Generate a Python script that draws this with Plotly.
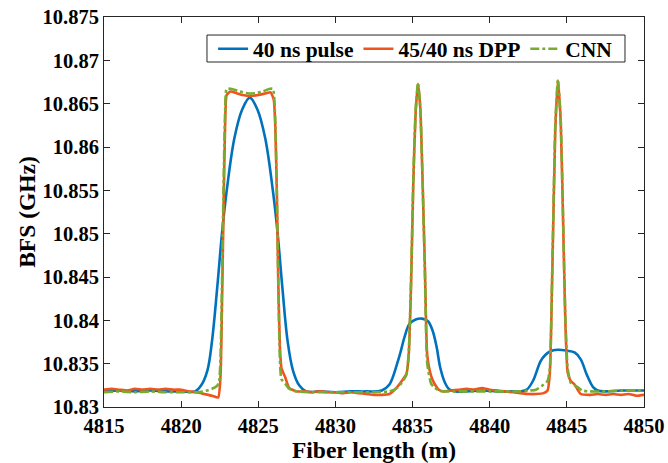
import plotly.graph_objects as go

# ---- 40 ns pulse ----
pulse_x = [4815, 4816, 4817, 4818, 4819, 4820, 4820.9, 4821.3, 4821.7, 4822.0, 4822.35,
           4822.65, 4822.95, 4823.45, 4823.95, 4824.45, 4824.95, 4825.45, 4825.95, 4826.25,
           4826.55, 4826.9, 4827.25, 4827.65, 4828.1, 4829, 4830, 4831, 4832, 4833.0,
           4833.5, 4834.0, 4834.2, 4834.5, 4834.8, 4835.2, 4835.6, 4836.0, 4836.3, 4836.55,
           4836.8, 4837.1, 4837.4, 4837.8, 4838.5, 4839.5, 4840.5, 4841.5, 4842.0, 4842.4,
           4842.8, 4843.3, 4843.6, 4843.9, 4844.4, 4845.0, 4845.5, 4845.9, 4846.3, 4846.7,
           4847.0, 4847.5, 4848.5, 4849.5, 4850]
pulse_bfs = [10.8318, 10.8319, 10.8318, 10.8319, 10.8318, 10.8318, 10.8318, 10.8325, 10.8342, 10.8376, 10.8440,
             10.8501, 10.8549, 10.8610, 10.8643, 10.8657, 10.8643, 10.8610, 10.8549, 10.8501,
             10.8440, 10.8376, 10.8342, 10.8325, 10.8318, 10.8318, 10.8317, 10.8318, 10.8318, 10.8319,
             10.8326, 10.8350, 10.8362, 10.8382, 10.8396, 10.8401, 10.8402, 10.8399, 10.8388, 10.8370,
             10.8345, 10.8328, 10.8320, 10.8318, 10.8318, 10.8319, 10.8318, 10.8318, 10.8318, 10.8320,
             10.8330, 10.8353, 10.8360, 10.8364, 10.8366, 10.8365, 10.8363, 10.8355, 10.8337, 10.8323,
             10.8319, 10.8318, 10.8319, 10.8319, 10.8319]

# ---- 45/40 ns DPP ----
dpp_x = [4815, 4815.5, 4816, 4816.5, 4817, 4817.5, 4818, 4818.5, 4819, 4819.5, 4820, 4820.5,
         4821, 4821.5, 4822, 4822.4, 4822.55, 4822.65, 4822.75, 4822.85, 4822.95, 4823.2,
         4823.6, 4824.0, 4824.5, 4825.0, 4825.5, 4825.8, 4826.0, 4826.1, 4826.2, 4826.3,
         4826.4, 4826.5, 4826.75, 4827.0, 4827.5, 4828, 4828.5, 4829, 4829.5, 4830, 4830.5,
         4831, 4831.5, 4832, 4832.5, 4833, 4833.5, 4834.0, 4834.3, 4834.6, 4834.75, 4834.9,
         4835.05, 4835.2, 4835.35, 4835.5, 4835.65, 4835.8, 4835.95, 4836.2, 4836.45, 4836.7,
         4837.0, 4837.5, 4838, 4838.5, 4839, 4839.5, 4840, 4840.5, 4841, 4841.5, 4842, 4842.5,
         4843, 4843.5, 4843.75, 4843.9, 4844.05, 4844.25, 4844.42, 4844.6, 4844.75, 4844.9,
         4845.05, 4845.25, 4845.5, 4845.7, 4845.9, 4846.5, 4847, 4847.5, 4848, 4848.5, 4849,
         4849.5, 4850]
dpp_bfs = [10.8320, 10.8321, 10.8320, 10.8319, 10.8321, 10.8320, 10.8321, 10.8320, 10.8321, 10.8320, 10.8320, 10.8318,
           10.8317, 10.8315, 10.8313, 10.8311, 10.8335, 10.8420, 10.8530, 10.8625, 10.8660, 10.8664,
           10.8662, 10.8660, 10.8659, 10.8660, 10.8662, 10.8663, 10.8655, 10.8625, 10.8550, 10.8440,
           10.8370, 10.8345, 10.8334, 10.8322, 10.8318, 10.8318, 10.8317, 10.8318, 10.8317, 10.8317, 10.8316,
           10.8317, 10.8316, 10.8315, 10.8314, 10.8314, 10.8315, 10.8323, 10.8330, 10.8338, 10.8360, 10.8440,
           10.8560, 10.8640, 10.8673, 10.8645, 10.8560, 10.8460, 10.8360, 10.8336, 10.8326, 10.8320,
           10.8318, 10.8319, 10.8320, 10.8321, 10.8320, 10.8322, 10.8320, 10.8319, 10.8318, 10.8317, 10.8316, 10.8315,
           10.8315, 10.8316, 10.8319, 10.8340, 10.8450, 10.8620, 10.8677, 10.8630, 10.8520, 10.8400,
           10.8340, 10.8330, 10.8326, 10.8320, 10.8315, 10.8314, 10.8315, 10.8314, 10.8315, 10.8314, 10.8315,
           10.8313, 10.8314]

# ---- CNN ----
cnn_x = [4815, 4816, 4817, 4818, 4819, 4820, 4821, 4821.5, 4822.0, 4822.3, 4822.45, 4822.55,
         4822.65, 4822.75, 4822.85, 4822.95, 4823.3, 4823.8, 4824.3, 4824.8, 4825.3, 4825.7,
         4825.95, 4826.1, 4826.2, 4826.3, 4826.4, 4826.5, 4826.75, 4827.0, 4827.5, 4828.5,
         4829.5, 4830.5, 4831.5, 4832.5, 4833.5, 4834.0, 4834.3, 4834.6, 4834.75, 4834.9,
         4835.05, 4835.2, 4835.35, 4835.5, 4835.65, 4835.8, 4835.95, 4836.2, 4836.45, 4836.7,
         4837.0, 4838, 4839, 4840, 4841, 4842, 4842.5, 4843.0, 4843.5, 4843.75, 4843.9,
         4844.05, 4844.25, 4844.42, 4844.6, 4844.75, 4844.9, 4845.05, 4845.25, 4845.5, 4845.7,
         4846, 4846.5, 4847.5, 4848.5, 4849.5, 4850]
cnn_bfs = [10.8317, 10.8318, 10.8317, 10.8318, 10.8317, 10.8317, 10.8317, 10.8318, 10.8321, 10.8324, 10.8328, 10.8355,
           10.8445, 10.8555, 10.8640, 10.8667, 10.8667, 10.8664, 10.8662, 10.8662, 10.8664, 10.8667,
           10.8667, 10.8630, 10.8550, 10.8440, 10.8355, 10.8332, 10.8327, 10.8321, 10.8318, 10.8317,
           10.8317, 10.8317, 10.8317, 10.8317, 10.8318, 10.8322, 10.8328, 10.8337, 10.8362, 10.8445,
           10.8565, 10.8643, 10.8674, 10.8646, 10.8560, 10.8455, 10.8350, 10.8327, 10.8322, 10.8319,
           10.8318, 10.8318, 10.8318, 10.8318, 10.8318, 10.8318, 10.8319, 10.8320, 10.8326, 10.8330, 10.8345,
           10.8455, 10.8625, 10.8678, 10.8632, 10.8522, 10.8405, 10.8345, 10.8328, 10.8325, 10.8323,
           10.8319, 10.8318, 10.8318, 10.8319, 10.8319, 10.8319]

x_ticks = [4815, 4820, 4825, 4830, 4835, 4840, 4845, 4850]
y_ticks = [10.83, 10.835, 10.84, 10.845, 10.85, 10.855, 10.86, 10.865, 10.87, 10.875]
y_tick_text = ["10.83", "10.835", "10.84", "10.845", "10.85", "10.855", "10.86", "10.865", "10.87", "10.875"]

FONT = "Liberation Serif"
AXIS_COLOR = "#262626"

fig = go.Figure()
fig.add_trace(go.Scatter(x=pulse_x, y=pulse_bfs, mode="lines", name="40 ns pulse",
                         line=dict(color="#0072BD", width=2.6, shape="spline", smoothing=1.0)))
fig.add_trace(go.Scatter(x=dpp_x, y=dpp_bfs, mode="lines", name="45/40 ns DPP",
                         line=dict(color="#F0541E", width=2.6, shape="spline", smoothing=0.5)))
fig.add_trace(go.Scatter(x=cnn_x, y=cnn_bfs, mode="lines", name="CNN",
                         line=dict(color="#77AC30", width=2.6, dash="dashdot",
                                   shape="spline", smoothing=0.5)))

axis_common = dict(
    showgrid=False, zeroline=False, showline=True, linecolor=AXIS_COLOR, linewidth=1,
    mirror="ticks", ticks="inside", ticklen=6, tickcolor=AXIS_COLOR, tickwidth=1,
    automargin=False,
    tickfont=dict(family=FONT, size=20.5, color="#000000", weight="bold"),
)

fig.update_xaxes(range=[4815, 4850], tickvals=x_ticks,
                 title=dict(text="Fiber length (m)", standoff=2,
                            font=dict(family=FONT, size=23.5, color="#000000", weight="bold")),
                 **axis_common)
fig.update_yaxes(range=[10.83, 10.875], tickvals=y_ticks, ticktext=y_tick_text,
                 title=dict(text="BFS (GHz)", standoff=0,
                            font=dict(family=FONT, size=23.5, color="#000000", weight="bold")),
                 **axis_common)

# legend frame (drawn as a shape so it hugs the single row of entries)
fig.add_shape(type="rect", xref="paper", yref="paper",
              x0=0.1907, x1=0.9648, y0=0.8846, y1=0.9538,
              line=dict(color=AXIS_COLOR, width=1), fillcolor="white", layer="above")

fig.update_layout(
    width=668, height=463,
    margin=dict(l=104, r=24, t=17, b=56),
    paper_bgcolor="white", plot_bgcolor="white",
    showlegend=True,
    legend=dict(orientation="h", x=0.202, y=0.971, xanchor="left", yanchor="top",
                bgcolor="rgba(0,0,0,0)", borderwidth=0,
                font=dict(family=FONT, size=21.5, color="#000000", weight="bold"),
                itemwidth=30, tracegroupgap=0),
)

fig.write_html("out.html")
